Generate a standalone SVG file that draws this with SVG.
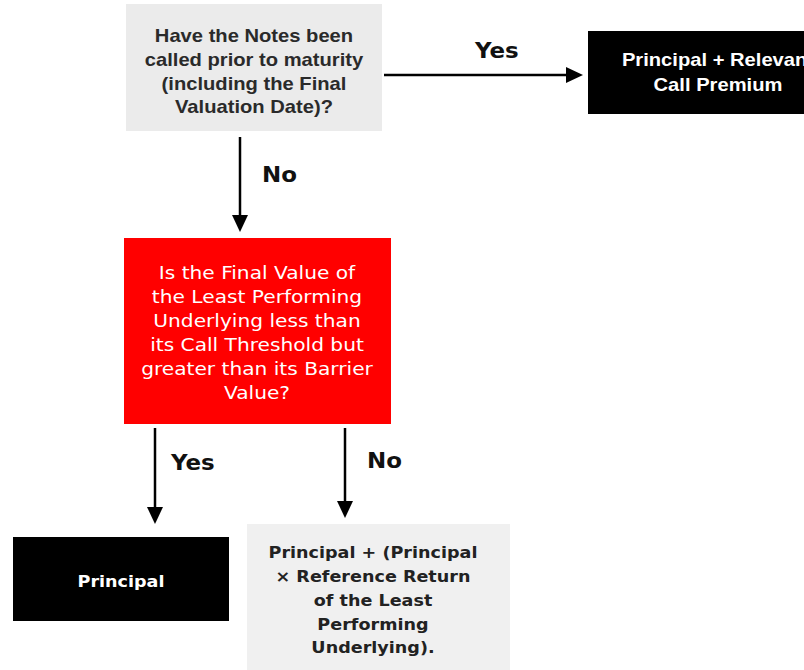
<svg xmlns="http://www.w3.org/2000/svg" width="804" height="670" viewBox="0 0 804 670">
<defs>
<style>
.edge{stroke:#000;stroke-width:2.5;fill:none}
.ah{fill:#000}
.lbl{font-family:"DejaVu Sans",Verdana,sans-serif;font-weight:bold;font-size:20.5px;fill:#111}
.ar{font-family:"Liberation Sans",Arial,sans-serif;font-weight:bold;text-anchor:middle}
.dv{font-family:"DejaVu Sans",Verdana,sans-serif;text-anchor:middle}
</style>
</defs>
<rect width="804" height="670" fill="#fff"/>
<g id="edges">
<line class="edge" x1="384" y1="75" x2="566" y2="75"/><path class="ah" d="M583,75 L566,67 L566,83 Z"/>
<line class="edge" x1="240" y1="137" x2="240" y2="215"/><path class="ah" d="M240,232 L232,215 L248,215 Z"/>
<line class="edge" x1="155" y1="428" x2="155" y2="507"/><path class="ah" d="M155,524 L147,507 L163,507 Z"/>
<line class="edge" x1="345" y1="428" x2="345" y2="501"/><path class="ah" d="M345,518 L337,501 L353,501 Z"/>
<g transform="matrix(1.12,0,0,1,-57,0)"><text class="lbl" x="475" y="58">Yes</text></g>
<g transform="matrix(1.12,0,0,1,-31.4,0)"><text class="lbl" x="262" y="182">No</text></g>
<g transform="matrix(1.12,0,0,1,-20.5,0)"><text class="lbl" x="171" y="470">Yes</text></g>
<g transform="matrix(1.12,0,0,1,-44,0)"><text class="lbl" x="367" y="468">No</text></g>
</g>
<g id="q1">
<rect x="126" y="4" width="256" height="127" fill="#ebebeb"/>
<g transform="matrix(1.12,0,0,1,-30.48,0)">
<text class="ar" font-size="18" fill="#2a2a2a"><tspan x="254" y="42">Have the Notes been</tspan><tspan x="254" y="66">called prior to maturity</tspan><tspan x="254" y="90">(including the Final</tspan><tspan x="254" y="113">Valuation Date)?</tspan></text>
</g>
</g>
<g id="called">
<rect x="588" y="31" width="230" height="83" fill="#000"/>
<g transform="matrix(1.12,0,0,1,-86.16,0)">
<text class="ar" font-size="18" fill="#fff"><tspan x="718" y="66">Principal + Relevant</tspan><tspan x="718" y="91">Call Premium</tspan></text>
</g>
</g>
<g id="q2">
<rect x="124" y="238" width="267" height="186" fill="#ff0000"/>
<g transform="matrix(1.12,0,0,1,-30.84,0)">
<text class="dv" font-size="18" fill="#fff"><tspan x="257" y="279">Is the Final Value of</tspan><tspan x="257" y="303">the Least Performing</tspan><tspan x="257" y="327">Underlying less than</tspan><tspan x="257" y="351">its Call Threshold but</tspan><tspan x="257" y="375">greater than its Barrier</tspan><tspan x="257" y="399">Value?</tspan></text>
</g>
</g>
<g id="principal">
<rect x="13" y="537" width="216" height="84" fill="#000"/>
<g transform="matrix(1.12,0,0,1,-14.52,0)">
<text class="dv" font-weight="bold" font-size="15.7" fill="#fff" x="121" y="587">Principal</text>
</g>
</g>
<g id="ret">
<rect x="247" y="524" width="263" height="146" fill="#f0f0f0"/>
<g transform="matrix(1.12,0,0,1,-44.76,0)">
<text class="dv" font-weight="bold" font-size="15.7" fill="#222"><tspan x="373" y="558">Principal + (Principal</tspan><tspan x="373" y="582">× Reference Return</tspan><tspan x="373" y="606">of the Least</tspan><tspan x="373" y="630">Performing</tspan><tspan x="373" y="653">Underlying).</tspan></text>
</g>
</g>
</svg>
